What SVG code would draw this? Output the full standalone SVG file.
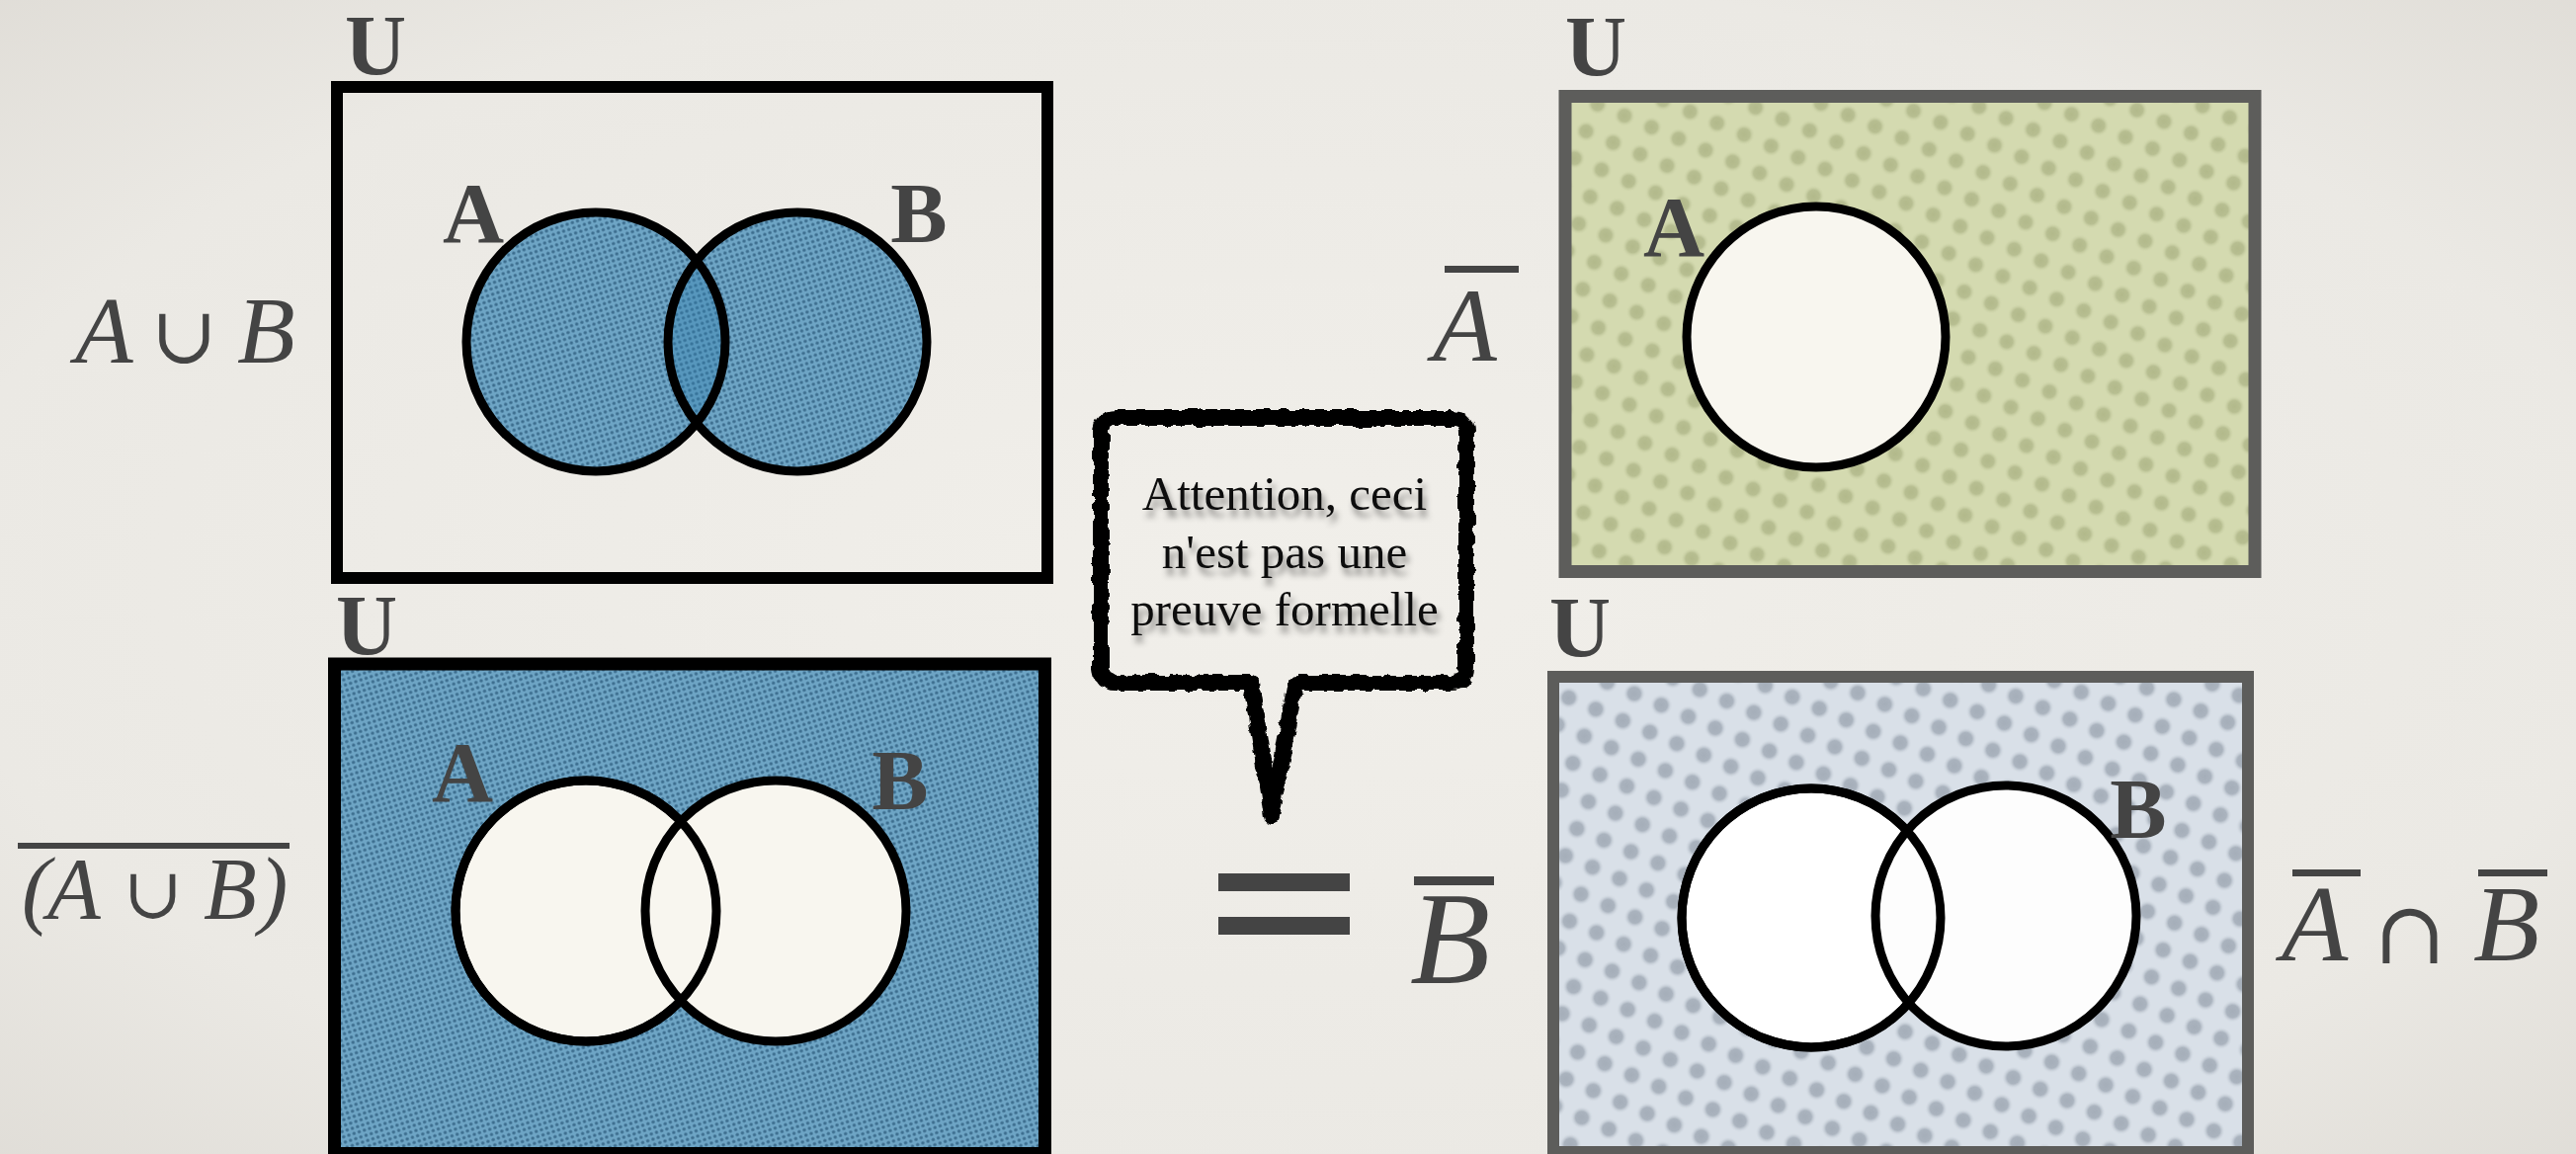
<svg xmlns="http://www.w3.org/2000/svg" width="2607" height="1168" viewBox="0 0 2607 1168">
<defs>
  <radialGradient id="bg" cx="50%" cy="50%" r="75%">
    <stop offset="0" stop-color="#f1efea"/>
    <stop offset="0.7" stop-color="#ebe9e4"/>
    <stop offset="1" stop-color="#dedbd5"/>
  </radialGradient>
  <pattern id="bluedots" width="5.5" height="5.5" patternUnits="userSpaceOnUse" patternTransform="rotate(-18)">
    <rect width="5.5" height="5.5" fill="#6ea5c5"/>
    <circle cx="2.75" cy="2.75" r="1.7" fill="#3c6d8e"/>
  </pattern>
  <radialGradient id="gdot">
    <stop offset="0" stop-color="#b2b98b"/>
    <stop offset="0.55" stop-color="#b7be91"/>
    <stop offset="1" stop-color="#d4dab0" stop-opacity="0"/>
  </radialGradient>
  <pattern id="greendots" width="42" height="42" patternUnits="userSpaceOnUse" patternTransform="rotate(-22)">
    <rect width="42" height="42" fill="#d4dab0"/>
    <circle cx="10.5" cy="10.5" r="11" fill="url(#gdot)"/>
    <circle cx="31.5" cy="31.5" r="11" fill="url(#gdot)"/>
  </pattern>
  <radialGradient id="bdot">
    <stop offset="0" stop-color="#a5aeb9"/>
    <stop offset="0.55" stop-color="#aab3be"/>
    <stop offset="1" stop-color="#d9e0e8" stop-opacity="0"/>
  </radialGradient>
  <pattern id="greydots" width="42" height="42" patternUnits="userSpaceOnUse" patternTransform="rotate(-22)">
    <rect width="42" height="42" fill="#d9e0e8"/>
    <circle cx="10.5" cy="10.5" r="11.5" fill="url(#bdot)"/>
    <circle cx="31.5" cy="31.5" r="11.5" fill="url(#bdot)"/>
  </pattern>
  <clipPath id="clipA1"><circle cx="603" cy="346" r="131"/></clipPath>
  <filter id="rough" x="-10%" y="-10%" width="120%" height="120%">
    <feTurbulence type="fractalNoise" baseFrequency="0.1" numOctaves="2" seed="3" result="n"/>
    <feDisplacementMap in="SourceGraphic" in2="n" scale="8" xChannelSelector="R" yChannelSelector="G"/>
  </filter>
  <filter id="shadow" x="-10%" y="-20%" width="120%" height="150%">
    <feDropShadow dx="3" dy="7" stdDeviation="3" flood-color="#000" flood-opacity="0.45"/>
  </filter>
  <style>
    .lbl { font-family: "Liberation Serif", serif; font-weight: bold; font-size: 86px; fill: #444; text-anchor: middle; }
    .math { font-family: "Liberation Serif", serif; font-style: italic; fill: #444; }
    .op { font-family: "DejaVu Serif", "DejaVu Sans", serif; fill: #444; text-anchor: middle; }
    .bar { fill: #444; }
    .circ { stroke: #000; stroke-width: 9; }
    .bubtxt { font-family: "Liberation Serif", serif; font-size: 49px; fill: #111; text-anchor: middle; }
  </style>
</defs>

<rect width="2607" height="1168" fill="url(#bg)"/>

<g id="connectors"/>

<g id="union-diagram">
  <rect x="341" y="88" width="719" height="497" fill="none" stroke="#000" stroke-width="12"/>
  <text class="lbl" x="380" y="75">U</text>
  <circle cx="603" cy="346" r="131" fill="url(#bluedots)"/>
  <circle cx="807" cy="346" r="131" fill="url(#bluedots)"/>
  <circle cx="807" cy="346" r="131" fill="#2f7fb0" fill-opacity="0.35" clip-path="url(#clipA1)"/>
  <circle class="circ" cx="603" cy="346" r="131" fill="none"/>
  <circle class="circ" cx="807" cy="346" r="131" fill="none"/>
  <text class="lbl" x="479" y="245">A</text>
  <text class="lbl" x="930" y="245">B</text>
</g>

<g id="label-union">
  <text class="math" x="76" y="367" font-size="96">A</text>
  <text class="op" x="186" y="367" font-size="80">∪</text>
  <text class="math" x="240" y="367" font-size="96">B</text>
</g>

<g id="complement-union-diagram">
  <rect x="338.5" y="672" width="719" height="495.5" fill="url(#bluedots)" stroke="#000" stroke-width="13"/>
  <text class="lbl" x="371" y="662">U</text>
  <circle class="circ" cx="593" cy="922" r="132" fill="#f8f6ef"/>
  <circle class="circ" cx="785" cy="922" r="132" fill="#f8f6ef"/>
  <circle class="circ" cx="593" cy="922" r="132" fill="none"/>
  <text class="lbl" x="468" y="811">A</text>
  <text class="lbl" x="911" y="819">B</text>
</g>

<g id="label-complement-union">
  <rect class="bar" x="18" y="853" width="275" height="6"/>
  <text class="math" x="22" y="929" font-size="88" font-style="normal">(</text>
  <text class="math" x="48" y="929" font-size="88">A</text>
  <text class="op" x="155" y="929" font-size="72">∪</text>
  <text class="math" x="206" y="929" font-size="88">B</text>
  <text class="math" x="262" y="929" font-size="88" font-style="normal">)</text>
</g>

<g id="note-bubble">
  <path d="M1129,423 H1469 Q1484,423 1484,438 V676 Q1484,691 1469,691 H1311 L1287,826 L1266,691 H1129 Q1114,691 1114,676 V438 Q1114,423 1129,423 Z" fill="none" stroke="#000" stroke-width="16" stroke-linejoin="round" filter="url(#rough)"/>
  <g filter="url(#shadow)">
    <text class="bubtxt" x="1300" y="516">Attention, ceci</text>
    <text class="bubtxt" x="1300" y="575">n'est pas une</text>
    <text class="bubtxt" x="1300" y="633">preuve formelle</text>
  </g>
</g>

<g id="equals">
  <rect class="bar" x="1233" y="884" width="133" height="18"/>
  <rect class="bar" x="1233" y="928" width="133" height="18"/>
</g>

<g id="complement-A-diagram">
  <rect x="1584" y="97.5" width="698" height="481" fill="url(#greendots)" stroke="#5d5d5b" stroke-width="13"/>
  <text class="lbl" x="1615" y="76">U</text>
  <ellipse class="circ" cx="1838" cy="341" rx="131" ry="132" fill="#f8f6ef"/>
  <text class="lbl" x="1694" y="259">A</text>
</g>

<g id="label-complement-A">
  <rect class="bar" x="1462" y="269" width="75" height="7"/>
  <text class="math" x="1450" y="365" font-size="106">A</text>
</g>

<g id="label-complement-B">
  <rect class="bar" x="1431" y="887" width="81" height="9"/>
  <text class="math" x="1427" y="995" font-size="133">B</text>
</g>

<g id="intersection-diagram">
  <rect x="1572" y="685" width="703" height="481" fill="url(#greydots)" stroke="#5d5d5b" stroke-width="12"/>
  <text class="lbl" x="1599" y="664">U</text>
  <circle class="circ" cx="1833" cy="929" r="131" fill="#ffffff"/>
  <circle class="circ" cx="2030" cy="927" r="132" fill="#fdfdfd"/>
  <circle class="circ" cx="1833" cy="929" r="131" fill="none"/>
  <text class="lbl" x="2164" y="848">B</text>
</g>

<g id="label-intersection">
  <rect class="bar" x="2320" y="880" width="69" height="7"/>
  <text class="math" x="2309" y="972" font-size="110">A</text>
  <text class="op" x="2439" y="975" font-size="88">∩</text>
  <rect class="bar" x="2508" y="880" width="70" height="7"/>
  <text class="math" x="2503" y="972" font-size="110">B</text>
</g>
</svg>
